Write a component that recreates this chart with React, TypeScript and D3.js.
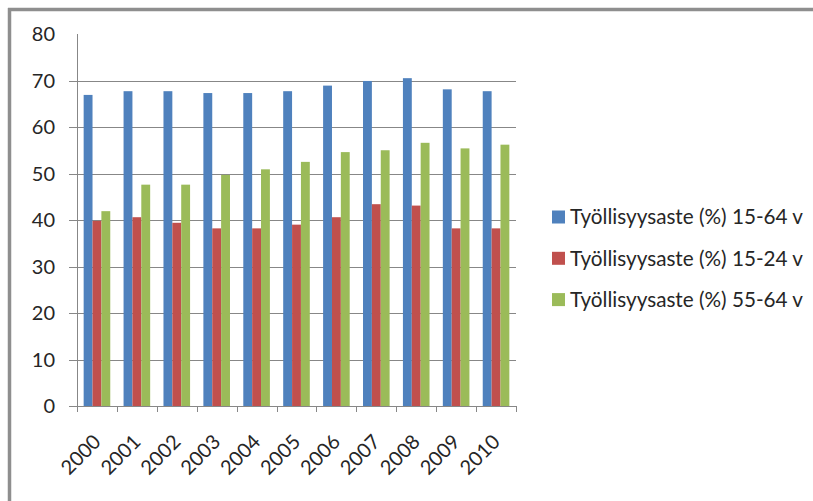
import React from 'react';
import { scaleBand, scaleLinear } from 'd3';

// vuodet
const years = ['2000', '2001', '2002', '2003', '2004', '2005', '2006', '2007', '2008', '2009', '2010'];

// työllisyysaste %, luettu kuvasta
const rate1564 = [66.9, 67.7, 67.7, 67.3, 67.3, 67.7, 68.9, 69.9, 70.5, 68.1, 67.7];
const rate1524 = [39.8, 40.6, 39.4, 38.2, 38.2, 39.0, 40.6, 43.4, 43.1, 38.2, 38.2];
const rate5564 = [41.9, 47.6, 47.6, 49.7, 50.9, 52.5, 54.6, 55.0, 56.6, 55.4, 56.2];

const seriesNames = ['Työllisyysaste (%) 15-64 v', 'Työllisyysaste (%) 15-24 v', 'Työllisyysaste (%) 55-64 v'];
const seriesColors = ['#4F81BD', '#C0504D', '#9BBB59'];
const yTicks = [0, 10, 20, 30, 40, 50, 60, 70, 80];

const FONT = 'Lato, "Liberation Sans", sans-serif';

function App() {
  const W = 813, H = 501;
  const left = 77, right = 516, top = 34, bottom = 406;

  const series = [rate1564, rate1524, rate5564];

  const x = scaleBand<string>().domain(years).range([left, right]).padding(0);
  const inner = scaleBand<number>()
    .domain([0, 1, 2])
    .range([0, x.bandwidth()])
    .paddingInner(0)
    .paddingOuter(0.75);
  const y = scaleLinear().domain([0, 80]).range([bottom, top]);

  const gridColor = '#878787';
  const textColor = '#262626';

  return (
    <svg width={W} height={H} style={{ position: 'absolute', left: 0, top: 0, background: '#fff' }}>
      <rect x={0} y={0} width={W} height={H} fill="#fff" />
      {/* kehys */}
      <line x1={8} x2={W} y1={9.5} y2={9.5} stroke="#8e8e8e" strokeWidth={3.5} />
      <line x1={9.5} x2={9.5} y1={8} y2={H} stroke="#8e8e8e" strokeWidth={3.5} />

      {/* vaakaviivat */}
      {yTicks.filter(t => t > 0 && t < 80).map(t => (
        <line key={'g' + t} x1={left - 8} x2={right} y1={Math.round(y(t)) + 0.5} y2={Math.round(y(t)) + 0.5}
          stroke={gridColor} strokeWidth={1} />
      ))}

      {/* palkit */}
      {series.map((vals, si) => (
        <g key={'s' + si} fill={seriesColors[si]}>
          {vals.map((v, i) => (
            <rect key={i}
              x={(x(years[i]) as number) + (inner(si) as number)}
              y={y(v)}
              width={inner.bandwidth()}
              height={y(0) - y(v)} />
          ))}
        </g>
      ))}

      {/* akselit */}
      <line x1={left + 0.5} x2={left + 0.5} y1={top} y2={bottom + 6} stroke={gridColor} />
      <line x1={left - 8} x2={right} y1={bottom + 0.5} y2={bottom + 0.5} stroke={gridColor} />
      {years.map((yr, i) => {
        const tx = Math.round((x(yr) as number) + x.bandwidth()) + 0.5;
        return <line key={'t' + yr} x1={tx} x2={tx} y1={bottom} y2={bottom + 6} stroke={gridColor} />;
      })}

      {/* y-tekstit */}
      {yTicks.map(t => (
        <text key={'yl' + t} x={55} y={y(t)} dy="0.36em" textAnchor="end"
          fontFamily={FONT} fontSize={20} fill={textColor}>{t}</text>
      ))}

      {/* x-tekstit */}
      {years.map(yr => {
        const cx = (x(yr) as number) + x.bandwidth() / 2;
        return (
          <text key={'xl' + yr} transform={`translate(${cx},438) rotate(-45)`} dy="0.36em" textAnchor="end"
            fontFamily={FONT} fontSize={20} fill={textColor}>{yr}</text>
        );
      })}

      {/* selite */}
      {seriesNames.map((name, i) => {
        const cy = 217 + i * 41.3;
        return (
          <g key={'lg' + i}>
            <rect x={552} y={cy - 6.5} width={13} height={13} fill={seriesColors[i]} />
            <text x={570} y={cy} dy="0.36em" fontFamily={FONT} fontSize={20.7} fill={textColor}>{name}</text>
          </g>
        );
      })}
    </svg>
  );
}

export default App;
